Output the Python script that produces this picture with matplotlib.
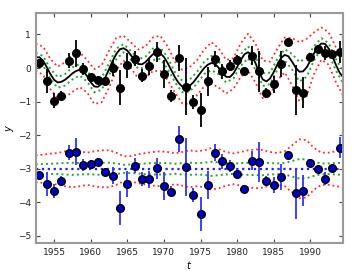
"""Two series with model curve and 1/2-sigma bands (recreated figure)."""
import numpy as np
import matplotlib
matplotlib.use("Agg")
import matplotlib.pyplot as plt

# observation years
years = np.arange(1953, 1995)

# upper series (black points)
y_top = [0.15, -0.38, -0.97, -0.82, 0.22, 0.44, -0.02, -0.28, -0.37, -0.40,
         0.00, -0.58, 0.08, 0.28, -0.23, 0.05, 0.47, -0.17, -0.83, 0.30,
         -0.55, -1.00, -1.25, -0.40, 0.27, -0.10, 0.07, 0.25, -0.10, 0.37,
         -0.10, -0.73, -0.48, 0.13, 0.77, -0.65, -0.73, 0.33, 0.57, 0.45,
         0.42, 0.47]

# lower series (blue points)
y_bot = [-3.18, -3.46, -3.66, -3.35, -2.52, -2.49, -2.88, -2.86, -2.80, -3.11,
         -3.21, -4.16, -3.45, -2.91, -3.31, -3.31, -2.99, -3.51, -3.68, -2.12,
         -2.95, -3.78, -4.35, -3.48, -2.52, -2.78, -2.92, -3.16, -3.60, -2.76,
         -2.80, -3.36, -3.48, -3.25, -2.60, -3.73, -3.65, -2.82, -3.00, -3.29,
         -2.98, -2.37]

# error bars (same for both series)
dy = [0.12, 0.35, 0.22, 0.13, 0.23, 0.40, 0.18, 0.12, 0.12, 0.10,
      0.25, 0.51, 0.38, 0.23, 0.20, 0.25, 0.30, 0.42, 0.17, 0.38,
      0.86, 0.21, 0.50, 0.42, 0.25, 0.22, 0.17, 0.15, 0.11, 0.29,
      0.60, 0.15, 0.25, 0.39, 0.10, 0.75, 0.46, 0.12, 0.11, 0.20,
      0.06, 0.32]

# model curve, read every half year 1952.5 .. 1994.5
t_model = np.arange(1952.5, 1994.51, 0.5)
model = [0.32, 0.32, 0.22, 0.03, -0.18, -0.35, -0.43, -0.41, -0.35, -0.26,
         -0.16, -0.09, -0.05, -0.09, -0.24, -0.42, -0.55, -0.56, -0.47, -0.28,
         -0.04, 0.21, 0.42, 0.56, 0.59, 0.52, 0.38, 0.22, 0.12, 0.11,
         0.18, 0.30, 0.41, 0.47, 0.44, 0.33, 0.15, -0.06, -0.27, -0.44,
         -0.55, -0.58, -0.53, -0.43, -0.29, -0.14, 0.00, 0.10, 0.15, 0.12,
         0.00, -0.15, -0.26, -0.27, -0.16, 0.03, 0.24, 0.41, 0.47, 0.38,
         0.15, -0.13, -0.34, -0.40, -0.31, -0.12, 0.11, 0.30, 0.39, 0.35,
         0.19, 0.01, -0.11, -0.10, 0.02, 0.22, 0.44, 0.63, 0.73, 0.72,
         0.58, 0.35, 0.09, -0.14, -0.28]

# half-widths of the 1- and 2-sigma bands, every year 1952.5 .. 1994.5
w1 = [0.13, 0.14, 0.15, 0.16, 0.17, 0.18, 0.17, 0.16, 0.17, 0.18,
      0.18, 0.16, 0.12, 0.13, 0.14, 0.16, 0.17, 0.17, 0.17, 0.15,
      0.17, 0.18, 0.17, 0.18, 0.21, 0.19, 0.17, 0.15, 0.17, 0.18,
      0.19, 0.19, 0.17, 0.16, 0.17, 0.23, 0.29, 0.28, 0.21, 0.16,
      0.16, 0.17, 0.18]
w2 = [0.40, 0.42, 0.45, 0.47, 0.52, 0.55, 0.52, 0.48, 0.52, 0.55,
      0.55, 0.48, 0.37, 0.38, 0.43, 0.47, 0.50, 0.52, 0.50, 0.46,
      0.50, 0.55, 0.52, 0.55, 0.62, 0.58, 0.50, 0.46, 0.50, 0.55,
      0.58, 0.56, 0.50, 0.47, 0.52, 0.70, 0.88, 0.85, 0.62, 0.48,
      0.48, 0.52, 0.55]

OFFSET = -3.0
GREEN = "#2ca02c"
RED = "#ff2a2a"

fig = plt.figure(figsize=(3.61, 2.71), dpi=100)
ax = fig.add_axes([0.099, 0.102, 0.852, 0.849])

m = np.array(model)
tb = t_model[::2]
mb = m[::2]
w1 = np.array(w1)
w2 = np.array(w2)

# top: model + bands
ax.plot(t_model, m, "-k", lw=1.3)
for s in (1, -1):
    ax.plot(tb, mb + s * w1, ":", color=GREEN, lw=1.4)
    ax.plot(tb, mb + s * w2, ":", color=RED, lw=1.3)
ax.errorbar(years, y_top, dy, fmt="o", color="k", ecolor="k", ms=5.5, lw=1.3)

# bottom: flat model + bands
ax.axhline(OFFSET, ls=":", color="#2020ff", lw=1.6)
for s in (1, -1):
    ax.plot(tb, OFFSET + s * w1, ":", color=GREEN, lw=1.4)
    ax.plot(tb, OFFSET + s * w2, ":", color=RED, lw=1.3)
ax.errorbar(years, y_bot, dy, fmt="o", mfc="#0000cc", mec="k", ecolor="#3030ff",
            ms=5.5, lw=1.3)

ax.set_xlim(1952.5, 1994.5)
ax.set_ylim(-5.22, 1.63)
ax.set_xticks([1955, 1960, 1965, 1970, 1975, 1980, 1985, 1990])
ax.set_yticks([-5, -4, -3, -2, -1, 0, 1])
ax.set_xlabel("$t$", fontsize=7, labelpad=1)
ax.set_ylabel("$y$", fontsize=7, labelpad=1)
ax.tick_params(direction="in", top=True, right=True, labelsize=6.5,
               length=3, color="#444444", labelcolor="#222222")
for sp in ax.spines.values():
    sp.set_color("#999999")
    sp.set_linewidth(1.5)

fig.savefig("out.png", dpi=100)
